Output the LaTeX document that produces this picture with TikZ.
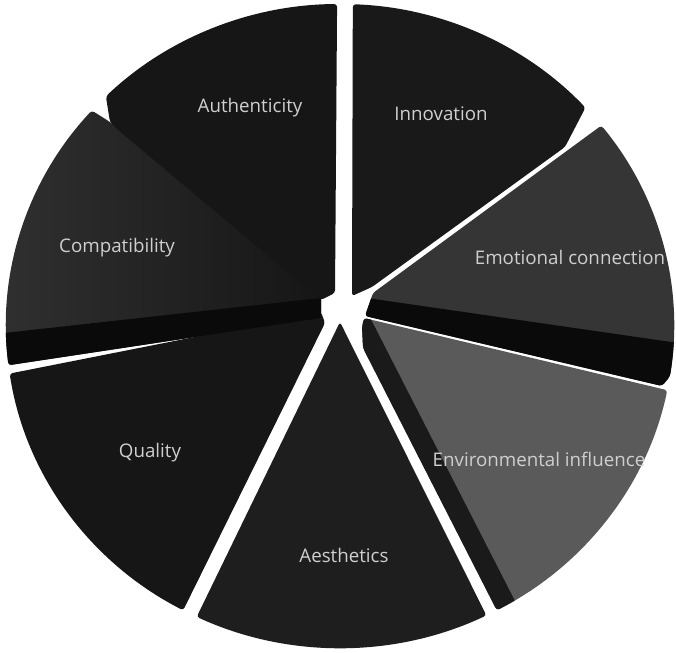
\documentclass[tikz,border=0pt]{standalone}
\usepackage{fontspec}
\setmainfont{Open Sans}
\definecolor{cAuth}{HTML}{161616}
\definecolor{cInno}{HTML}{191919}
\definecolor{cEmo}{HTML}{353535}
\definecolor{cEnv}{HTML}{5A5A5A}
\definecolor{cAes}{HTML}{1E1E1E}
\definecolor{cQual}{HTML}{161616}
\definecolor{cComp}{HTML}{303030}
\definecolor{cBand}{HTML}{0A0A0A}
\definecolor{cText}{HTML}{CFCFCF}
\def\RR{10.02cm and 9.66cm}
\def\pAuth{(-5,33) -- (90.5:\RR) arc[start angle=90.5, end angle=134.5, x radius=10.02cm, y radius=9.66cm] -- (-230,204) -- (-222,196) -- (-19,26) -- cycle}
\def\pComp{(-19,31) -- (-19,8) -- (187:\RR) arc[start angle=187, end angle=138, x radius=10.02cm, y radius=9.66cm] -- (-230,204) -- cycle}
\def\pQual{(-19,14) -- (-15,3) -- (-118:\RR) arc[start angle=-118, end angle=-171.5, x radius=10.02cm, y radius=9.66cm] -- cycle}
\def\pAes{(0,4) -- (-64:\RR) arc[start angle=-64, end angle=-115.4, x radius=10.02cm, y radius=9.66cm] -- cycle}
\def\pEnv{(24,8) -- (-11.5:\RR) arc[start angle=-11.5, end angle=-62, x radius=10.02cm, y radius=9.66cm] -- (23,-22) -- (22,-1) -- cycle}
\def\pEmo{(33,33) -- (38.5:\RR) arc[start angle=38.5, end angle=-9, x radius=10.02cm, y radius=9.66cm] -- (322,-60) -- (25,10) -- cycle}
\def\pInno{(12,30) -- (87.8:\RR) arc[start angle=87.8, end angle=42.7, x radius=10.02cm, y radius=9.66cm] -- (225,179) -- (32,39) -- cycle}
\begin{document}
\begin{tikzpicture}[x=0.03cm, y=0.03cm,
  slice/.style={rounded corners=2.5pt},
  lbl/.style={text=cText, font=\fontsize{16}{19}\selectfont, inner sep=0pt}]
\fill[white] (0,0) rectangle (676,653);
\useasboundingbox (0,0) rectangle (676,653);
\begin{scope}[shift={(340,327)}]
  % slices
  \fill[slice, cQual] \pQual;
  \shade[slice, left color=cComp, right color=cAuth] \pComp;
  \begin{scope}
    \clip[slice] \pComp;
    \fill[cBand] (-345,-8) -- (-10,29) -- (-10,-80) -- (-345,-80) -- cycle;
  \end{scope}
  \fill[slice, cAuth] \pAuth;
  \fill[slice, cAes] \pAes;
  \fill[slice, cEnv] \pEnv;
  \begin{scope}
    \clip[slice] \pEnv;
    \fill[cBand!80!cEnv] (-20,40) -- (14,40) -- (42,-15) -- (176,-277) -- (176,-345) -- (-20,-345) -- cycle;
  \end{scope}
  \fill[slice, cEmo] \pEmo;
  \begin{scope}
    \clip[slice] \pEmo;
    \fill[cBand] (20,29) -- (345,-18) -- (345,-100) -- (20,-20) -- cycle;
  \end{scope}
  \fill[slice, cInno] \pInno;
  % labels
  \node[lbl] (tAuth) at (-90,218) {Authenticity};
  \node[lbl] (tInno) at (101,212) {Innovation};
  \node[lbl] (tComp) at (-223,78) {Compatibility};
  \node[lbl] (tEmo) at (230,69) {Emotional connection};
  \node[lbl] (tEnv) at (199,-133) {Environmental influence};
  \node[lbl] (tQual) at (-190,-127) {Quality};
  \node[lbl] (tAes) at (4,-229) {Aesthetics};
\end{scope}
\end{tikzpicture}
\end{document}
